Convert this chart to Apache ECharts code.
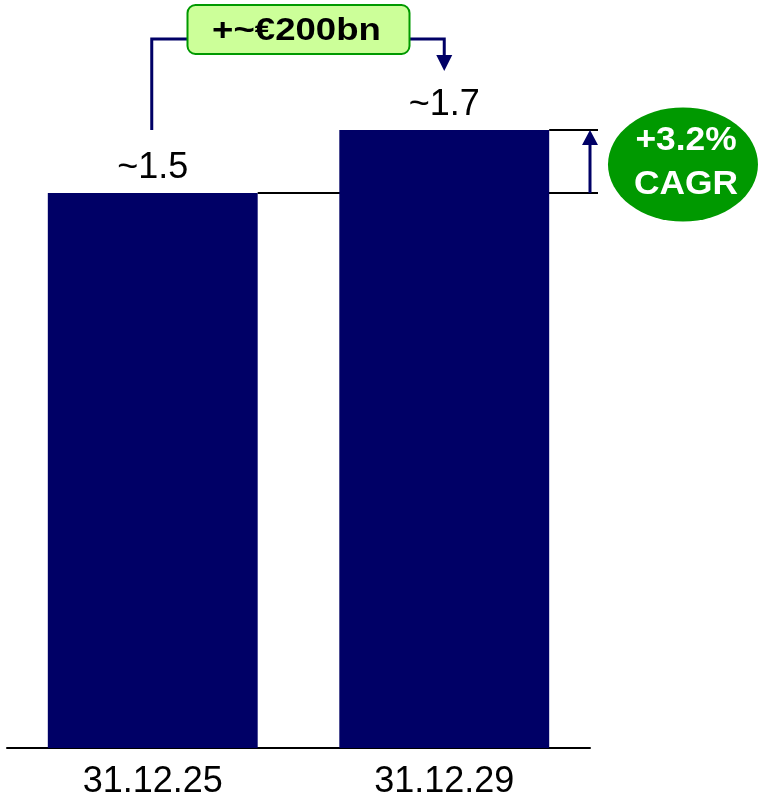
<!DOCTYPE html>
<html>
<head>
<meta charset="utf-8">
<script src="https://cdn.jsdelivr.net/npm/echarts@6/dist/echarts.min.js"></script>
<style>
html, body { margin: 0; padding: 0; background: #fff; }
#chart { width: 763px; height: 801px; }
</style>
</head>
<body>
<div id="chart"></div>
<script>
var categories = ['31.12.25', '31.12.29'];
var values = [1.5, 1.67];
var valueLabels = ['~1.5', '~1.7'];
var growthLabel = '+~€200bn';
var cagrLines = ['+3.2%', 'CAGR'];

var navy = '#000066';
var green = '#009900';
var font = 'Liberation Sans, Arial, sans-serif';

var chart = echarts.init(document.getElementById('chart'));
chart.setOption({
    animation: false,
    grid: { left: 7, right: 173, top: 8, bottom: 53 },
    xAxis: {
        type: 'category',
        data: categories,
        axisLine: { lineStyle: { color: '#000', width: 2 } },
        axisTick: { show: false },
        axisLabel: { color: '#000', fontSize: 36, fontFamily: font, margin: 16 }
    },
    yAxis: { type: 'value', min: 0, max: 2, show: false },
    series: [{
        type: 'bar',
        data: values,
        barWidth: '72%',
        itemStyle: { color: navy },
        label: {
            show: true,
            position: 'top',
            distance: 7,
            color: '#000',
            fontSize: 36,
            fontFamily: font,
            formatter: function (p) { return valueLabels[p.dataIndex]; }
        }
    }]
});

// annotations placed from the bar positions
var p0 = chart.convertToPixel({ seriesIndex: 0 }, [0, values[0]]);
var p1 = chart.convertToPixel({ seriesIndex: 0 }, [1, values[1]]);
var half = (p1[0] - p0[0]) * 0.72 / 2;
var mid = (p0[0] + p1[0]) / 2;
var bracketY = 39;
var rightX = 598, arrowX = 590;

chart.setOption({
    graphic: [
        {
            type: 'polyline',
            shape: { points: [[p0[0] - 1, p0[1] - 63], [p0[0] - 1, bracketY], [p1[0], bracketY], [p1[0], p1[1] - 74]] },
            style: { stroke: navy, lineWidth: 3, fill: null }
        },
        {
            type: 'polygon',
            shape: { points: [[p1[0] - 8, p1[1] - 75], [p1[0] + 8, p1[1] - 75], [p1[0], p1[1] - 59]] },
            style: { fill: navy }
        },
        {
            type: 'rect',
            shape: { x: mid - 111, y: 5, width: 222, height: 49, r: 8 },
            style: { fill: '#ccff99', stroke: green, lineWidth: 2 }
        },
        {
            type: 'text',
            x: mid - 2, y: 31,
            scaleX: 1.18,
            style: { text: growthLabel, fontSize: 31, fontWeight: 'bold', fontFamily: font, fill: '#000', align: 'center', verticalAlign: 'middle' }
        },
        {
            type: 'line',
            shape: { x1: p0[0] + half, y1: p0[1], x2: rightX, y2: p0[1] },
            style: { stroke: '#000', lineWidth: 2 }
        },
        {
            type: 'line',
            shape: { x1: p1[0] + half, y1: p1[1], x2: rightX, y2: p1[1] },
            style: { stroke: '#000', lineWidth: 2 }
        },
        {
            type: 'line',
            shape: { x1: arrowX, y1: p0[1], x2: arrowX, y2: p1[1] + 12 },
            style: { stroke: navy, lineWidth: 3 }
        },
        {
            type: 'polygon',
            shape: { points: [[arrowX - 8, p1[1] + 15], [arrowX + 8, p1[1] + 15], [arrowX, p1[1]]] },
            style: { fill: navy }
        },
        {
            type: 'circle',
            x: 683, y: 164.5,
            scaleX: 75 / 57,
            shape: { cx: 0, cy: 0, r: 57 },
            style: { fill: green }
        },
        {
            type: 'text',
            x: 686, y: 141,
            scaleX: 1.04,
            style: { text: cagrLines[0], fontSize: 34, fontWeight: 'bold', fontFamily: font, fill: '#fff', align: 'center', verticalAlign: 'middle' }
        },
        {
            type: 'text',
            x: 686, y: 185,
            scaleX: 1.04,
            style: { text: cagrLines[1], fontSize: 34, fontWeight: 'bold', fontFamily: font, fill: '#fff', align: 'center', verticalAlign: 'middle' }
        }
    ]
});

window.addEventListener('resize', function () { chart.resize(); });
</script>
</body>
</html>
